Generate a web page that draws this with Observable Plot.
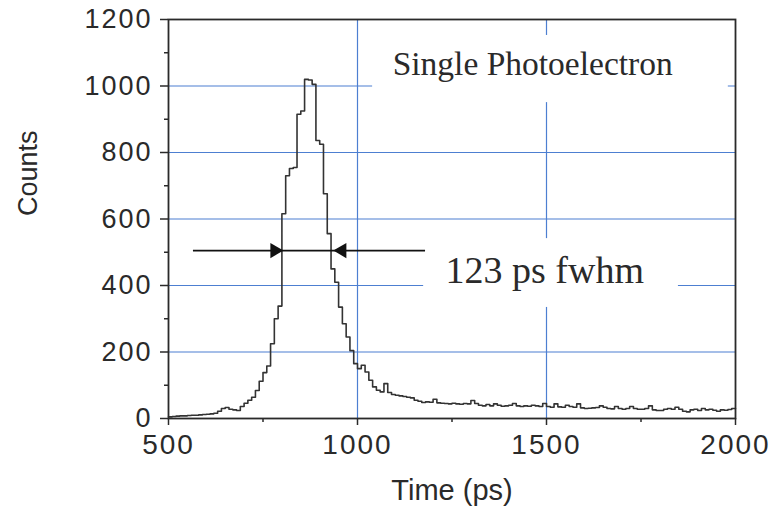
<!DOCTYPE html>
<html><head><meta charset="utf-8">
<script src="https://cdn.jsdelivr.net/npm/d3@7"></script>
<script src="https://cdn.jsdelivr.net/npm/@observablehq/plot@0.6"></script>
<style>
html,body{margin:0;padding:0;background:#fff;}
g[aria-label="x-axis tick label"] text,
g[aria-label="y-axis tick label"] text,
g[aria-label="axis-title"] text { letter-spacing: 2px; }
</style></head><body><div id="chart"></div>
<script>
// Histogram: bins of 10 ps starting at 500 ps
const binStart = 500;
const binWidth = 10;
const counts = [
  5, 6, 7, 8, 8, 9, 10, 10, 11, 12,
  13, 14, 16, 22, 30, 33, 28, 26, 24, 36,
  46, 55, 64, 84, 112, 138, 158, 225, 300, 338,
  616, 730, 752, 755, 915, 925, 1020, 1018, 1005, 836,
  825, 676, 556, 450, 410, 335, 285, 245, 204, 165,
  150, 160, 140, 115, 95, 85, 80, 105, 78, 72,
  70, 68, 66, 64, 62, 55, 52, 48, 50, 49,
  58, 47, 46, 45, 44, 46, 44, 43, 45, 44,
  54, 45, 40, 38, 42, 38, 44, 40, 37, 38,
  40, 45, 38, 36, 38, 37, 40, 38, 36, 45,
  36, 34, 44, 35, 34, 40, 36, 34, 44, 32,
  30, 31, 32, 33, 38, 34, 30, 29, 36, 30,
  28, 30, 36, 30, 28, 28, 30, 38, 26, 24,
  24, 28, 30, 28, 34, 28, 22, 20, 26, 28,
  24, 30, 26, 28, 25, 22, 26, 25, 27, 30
];

const xMajorTicks = [500, 1000, 1500, 2000];
const xMinorTicks = [750, 1250, 1750];
const yMajorTicks = [0, 200, 400, 600, 800, 1000, 1200];
const yMinorTicks = [100, 300, 500, 700, 900, 1100];
const xGrid = [1000, 1500];
const yGrid = [200, 400, 600, 800, 1000];

// Annotations (data units)
const labelBoxes = [
  {x1: 1040, x2: 1981, y1: 950, y2: 1152},
  {x1: 1175, x2: 1849, y1: 334, y2: 541}
];
const titleLabel = [{text: "Single Photoelectron", t: 1093, v: 1066}];
const fwhmLabel = [{text: "123 ps fwhm", t: 1233, v: 444}];
const fwhmLine = [{y: 505, x1: 566, x2: 1180}];
const fwhmHeads = [
  {t: 781, v: 505, angle: 90},
  {t: 959, v: 505, angle: -90}
];

const hist = counts.map((c, i) => ({t: binStart + i * binWidth, c}));
hist.push({t: binStart + counts.length * binWidth, c: counts[counts.length - 1]});

const ink = "#2a2a2a";
const grid = "#4d7fd1";
const plain = d => String(d);

const chart = Plot.plot({
  width: 772,
  height: 516,
  marginLeft: 168,
  marginRight: 37,
  marginTop: 19,
  marginBottom: 98,
  style: {fontFamily: "'Liberation Sans', Arial, sans-serif", fontSize: "28px", color: ink, background: "white", overflow: "visible"},
  x: {domain: [500, 2000], label: null},
  y: {domain: [0, 1200], label: null},
  marks: [
    Plot.ruleY(yGrid, {stroke: grid, strokeWidth: 1.2}),
    Plot.ruleX(xGrid, {stroke: grid, strokeWidth: 1.2}),
    Plot.rect(labelBoxes, {x1: "x1", x2: "x2", y1: "y1", y2: "y2", fill: "white"}),
    Plot.line(hist, {x: "t", y: "c", curve: "step-after", stroke: "#333", strokeWidth: 1.6}),
    Plot.ruleY(fwhmLine, {y: "y", x1: "x1", x2: "x2", stroke: "#111", strokeWidth: 1.8}),
    Plot.dot(fwhmHeads, {x: "t", y: "v", symbol: "triangle", r: 5.6, rotate: "angle", fill: "#111", stroke: "none"}),
    Plot.text(titleLabel, {x: "t", y: "v", text: "text", textAnchor: "start", lineAnchor: "middle",
      fontFamily: "'Liberation Serif', 'Times New Roman', serif", fontSize: 33.5, fill: ink}),
    Plot.text(fwhmLabel, {x: "t", y: "v", text: "text", textAnchor: "start", lineAnchor: "middle",
      fontFamily: "'Liberation Serif', 'Times New Roman', serif", fontSize: 38, fill: ink}),
    Plot.axisX(xMajorTicks, {tickSize: 7, tickPadding: 9, fontSize: 28, strokeWidth: 1.5, tickFormat: plain, label: null}),
    Plot.axisX(xMinorTicks, {tickSize: 4, tickFormat: () => "", strokeWidth: 1.5, label: null}),
    Plot.axisY(yMajorTicks, {tickSize: 8, tickPadding: 8, fontSize: 27, strokeWidth: 1.5, tickFormat: plain, label: null}),
    Plot.axisY(yMinorTicks, {tickSize: 4, tickFormat: () => "", strokeWidth: 1.5, label: null}),
    Plot.text(["Counts"], {frameAnchor: "left", dx: -140, dy: -3, rotate: -90, fontSize: 27, fill: ink, ariaLabel: "axis-title"}),
    Plot.text(["Time (ps)"], {frameAnchor: "bottom", dy: 81, fontSize: 29, fill: ink, ariaLabel: "axis-title"}),
    Plot.frame({stroke: ink, strokeWidth: 1.8})
  ]
});
document.getElementById("chart").append(chart);
</script>
</body></html>
